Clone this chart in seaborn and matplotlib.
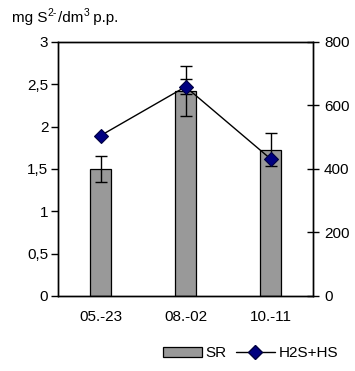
import matplotlib
matplotlib.use("Agg")
import matplotlib.pyplot as plt
from matplotlib.patches import Patch
from matplotlib.lines import Line2D
import seaborn as sns
import pandas as pd

# Sampling dates
dates = ["05.-23", "08.-02", "10.-11"]
# SR (left axis) with standard deviation
sr_values = [1.50, 2.42, 1.73]
sr_err = [0.15, 0.30, 0.20]
# H2S+HS (right axis) with standard deviation
hs_values = [505, 659, 432]
hs_err = [0, 24, 0]

left_ticks = [0, 0.5, 1, 1.5, 2, 2.5, 3]
left_labels = ["0", "0,5", "1", "1,5", "2", "2,5", "3"]
right_ticks = [0, 200, 400, 600, 800]

sns.set_theme(style="white")
plt.rcParams["font.family"] = ["Liberation Sans", "DejaVu Sans"]
plt.rcParams["text.color"] = "black"
plt.rcParams["xtick.color"] = "black"
plt.rcParams["ytick.color"] = "black"
plt.rcParams["xtick.labelcolor"] = "black"
plt.rcParams["ytick.labelcolor"] = "black"
fs = 11

df = pd.DataFrame({"date": dates, "SR": sr_values})

fig = plt.figure(figsize=(3.55, 3.71), dpi=100)
ax = fig.add_axes([0.1634, 0.2022, 0.7183, 0.6846])

bar_color = "#999999"
sns.barplot(data=df, x="date", y="SR", color=bar_color, saturation=1,
            width=0.25, edgecolor="black", linewidth=0.9, errorbar=None, ax=ax)
ax.errorbar(range(len(dates)), sr_values, yerr=sr_err, fmt="none",
            ecolor="black", elinewidth=1, capsize=4, capthick=1, zorder=3)

ax.set_xlim(-0.5, len(dates) - 0.5)
ax.set_ylim(0, 3)
ax.set_yticks(left_ticks)
ax.set_yticklabels(left_labels, fontsize=fs)
ax.set_xticks(range(len(dates)))
ax.set_xticklabels(dates, fontsize=fs)
ax.set_xticks([-0.5, 0.5, 1.5, 2.5], minor=True)
ax.tick_params(axis="x", which="major", length=0, pad=10)
ax.tick_params(axis="x", which="minor", direction="inout", length=8, width=1, color="black")
ax.tick_params(axis="y", which="major", direction="out", length=5, width=1,
               color="black", left=True, pad=2)
ax.set_xlabel("")
ax.set_ylabel("")
for s in ax.spines.values():
    s.set_color("black")
    s.set_linewidth(1)

ax2 = ax.twinx()
ax2.errorbar(range(len(dates)), hs_values, yerr=hs_err, fmt="none",
             ecolor="black", elinewidth=1, capsize=4, capthick=1, zorder=3)
sns.lineplot(x=list(range(len(dates))), y=hs_values, ax=ax2, color="black",
             linewidth=1, marker="D", markersize=7, markerfacecolor="#000080",
             markeredgecolor="#000040", markeredgewidth=0.8, zorder=4)
ax2.set_ylim(0, 800)
ax2.set_yticks(right_ticks)
ax2.set_yticklabels([str(t) for t in right_ticks], fontsize=fs)
ax2.tick_params(axis="y", direction="inout", length=8, width=1, color="black",
                right=True, pad=4)
ax2.set_ylabel("")
for s in ax2.spines.values():
    s.set_color("black")
    s.set_linewidth(1)

# Unit label above the left axis, built from pieces so the superscripts keep a plain hyphen
fig.canvas.draw()
r = fig.canvas.get_renderer()
fw = fig.bbox.width
base_y = 0.94
sup_y = 0.957
pieces = [("mg S", fs, base_y), ("2-", fs * 0.68, sup_y),
          ("/dm", fs, base_y), ("3", fs * 0.68, sup_y), (" p.p.", fs, base_y)]
x = 0.034
for txt, size, yy in pieces:
    t = fig.text(x, yy, txt, fontsize=size)
    bb = t.get_window_extent(r)
    x = bb.x1 / fw + 0.001

handles = [
    Patch(facecolor=bar_color, edgecolor="black", linewidth=0.9),
    Line2D([0], [0], color="black", linewidth=1, marker="D", markersize=7,
           markerfacecolor="#000080", markeredgecolor="#000040"),
]
fig.legend(handles, ["SR", "H2S+HS"], loc="lower center",
           bbox_to_anchor=(0.705, 0.0), ncol=2, frameon=False, fontsize=fs,
           handlelength=2.6, handleheight=0.7, handletextpad=0.2,
           columnspacing=0.6, borderaxespad=0.3)

fig.savefig("out.png", dpi=100)
